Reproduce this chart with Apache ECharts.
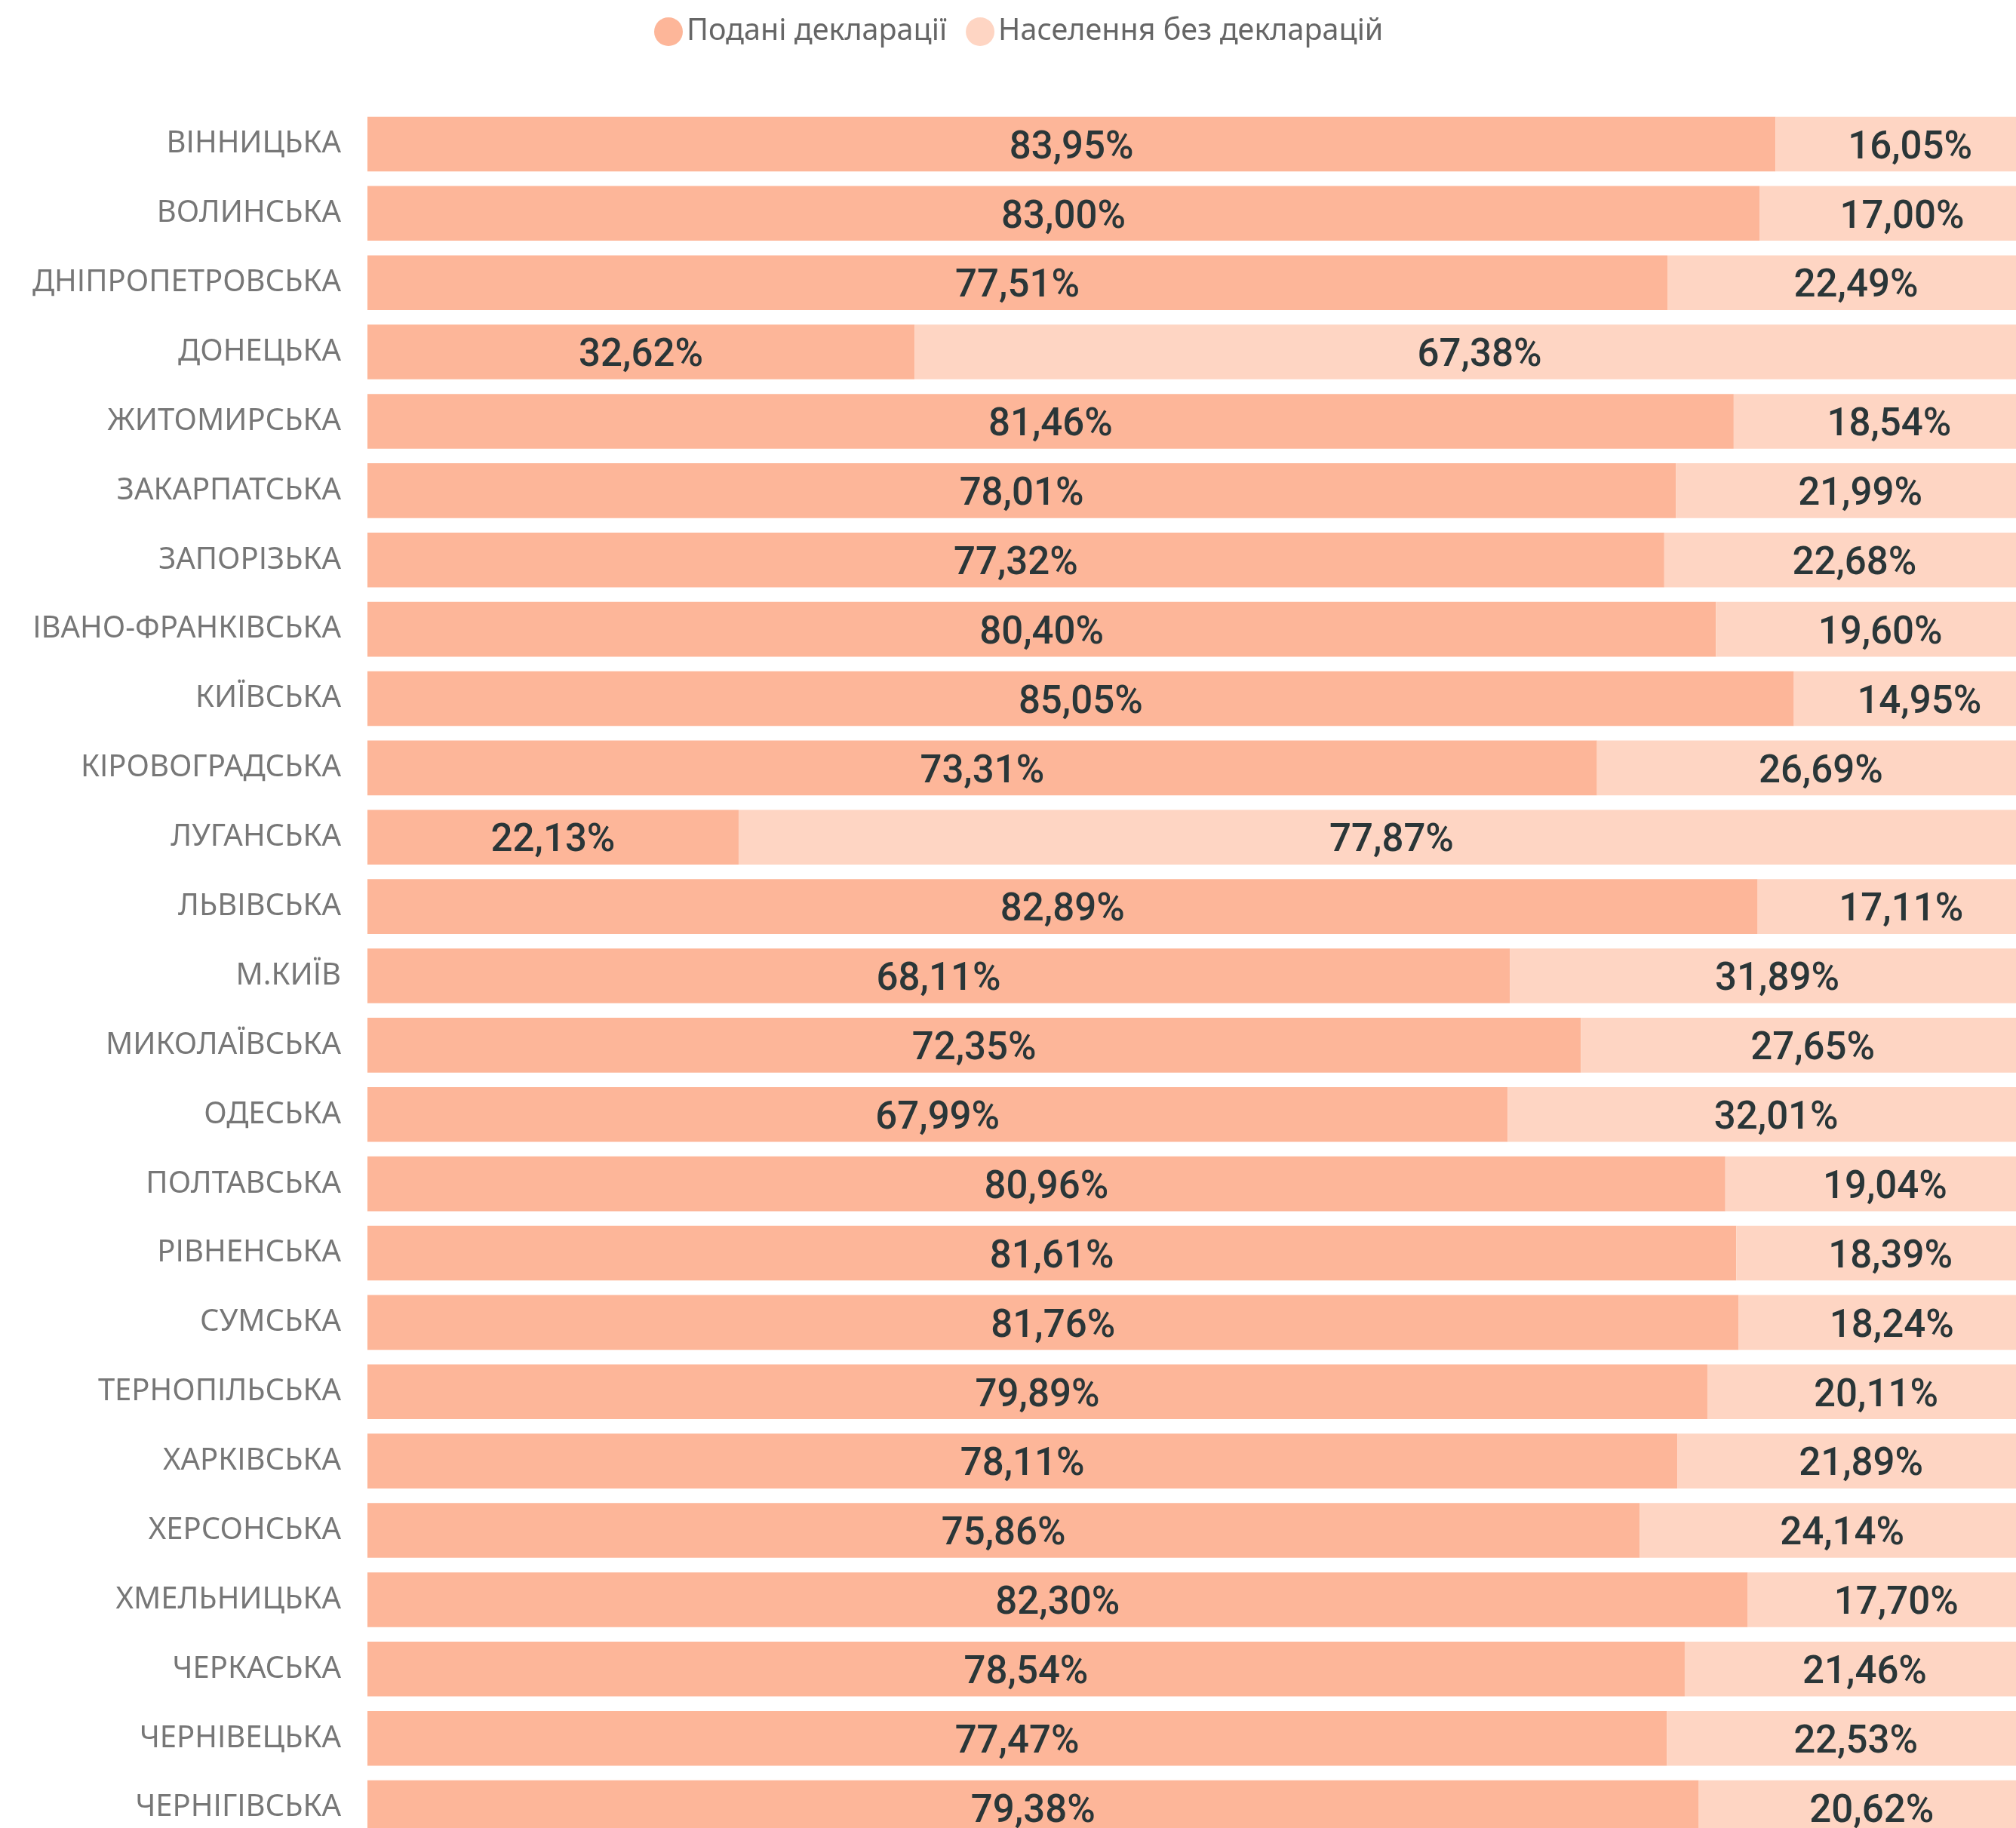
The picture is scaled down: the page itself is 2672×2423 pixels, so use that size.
<!DOCTYPE html>
<html>
<head>
<meta charset="utf-8">
<script src="https://cdn.jsdelivr.net/npm/echarts@6/dist/echarts.min.js"></script>
<style>
html,body{margin:0;padding:0;background:#fff;}
#chart{width:2672px;height:2423px;}
</style>
</head>
<body>
<div id="chart"></div>
<script>
const categories = ['ВІННИЦЬКА','ВОЛИНСЬКА','ДНІПРОПЕТРОВСЬКА','ДОНЕЦЬКА','ЖИТОМИРСЬКА','ЗАКАРПАТСЬКА','ЗАПОРІЗЬКА','ІВАНО-ФРАНКІВСЬКА','КИЇВСЬКА','КІРОВОГРАДСЬКА','ЛУГАНСЬКА','ЛЬВІВСЬКА','М.КИЇВ','МИКОЛАЇВСЬКА','ОДЕСЬКА','ПОЛТАВСЬКА','РІВНЕНСЬКА','СУМСЬКА','ТЕРНОПІЛЬСЬКА','ХАРКІВСЬКА','ХЕРСОНСЬКА','ХМЕЛЬНИЦЬКА','ЧЕРКАСЬКА','ЧЕРНІВЕЦЬКА','ЧЕРНІГІВСЬКА'];
const submitted = [83.95,83.00,77.51,32.62,81.46,78.01,77.32,80.40,85.05,73.31,22.13,82.89,68.11,72.35,67.99,80.96,81.61,81.76,79.89,78.11,75.86,82.30,78.54,77.47,79.38];
const without = [16.05,17.00,22.49,67.38,18.54,21.99,22.68,19.60,14.95,26.69,77.87,17.11,31.89,27.65,32.01,19.04,18.39,18.24,20.11,21.89,24.14,17.70,21.46,22.53,20.62];
const seriesNames = ['Подані декларації','Населення без декларацій'];

const chart = echarts.init(document.getElementById('chart'));
const fmt = p => p.value.toFixed(2).replace('.', ',') + '%';
const labelStyle = {
  show: true, position: 'inside', formatter: fmt, offset: [0, 6],
  color: '#2a3638', fontFamily: 'Roboto', fontWeight: 500, fontSize: 51
};
chart.setOption({
  backgroundColor: '#ffffff',
  animation: false,
  legend: {
    top: 17, left: 862,
    icon: 'circle', itemWidth: 38, itemHeight: 38, itemGap: 25,
    textStyle: { fontFamily: 'Noto Sans', fontSize: 39.5, color: '#666666' },
    data: seriesNames
  },
  grid: { left: 487, top: 145, width: 2223, height: 2297, containLabel: false, outerBoundsMode: 'none' },
  xAxis: { type: 'value', min: 0, max: 100, show: false },
  yAxis: {
    type: 'category', data: categories, inverse: true,
    axisLine: { show: false }, axisTick: { show: false }, splitLine: { show: false },
    axisLabel: { margin: 35, fontFamily: 'Noto Sans', fontSize: 40, color: '#777777' }
  },
  series: [
    { name: seriesNames[0], type: 'bar', stack: 'total', data: submitted,
      barCategoryGap: '21%', itemStyle: { color: '#FDB699' }, label: labelStyle },
    { name: seriesNames[1], type: 'bar', stack: 'total', data: without,
      barCategoryGap: '21%', itemStyle: { color: '#FED5C3' }, label: labelStyle }
  ]
});
</script>
</body>
</html>
